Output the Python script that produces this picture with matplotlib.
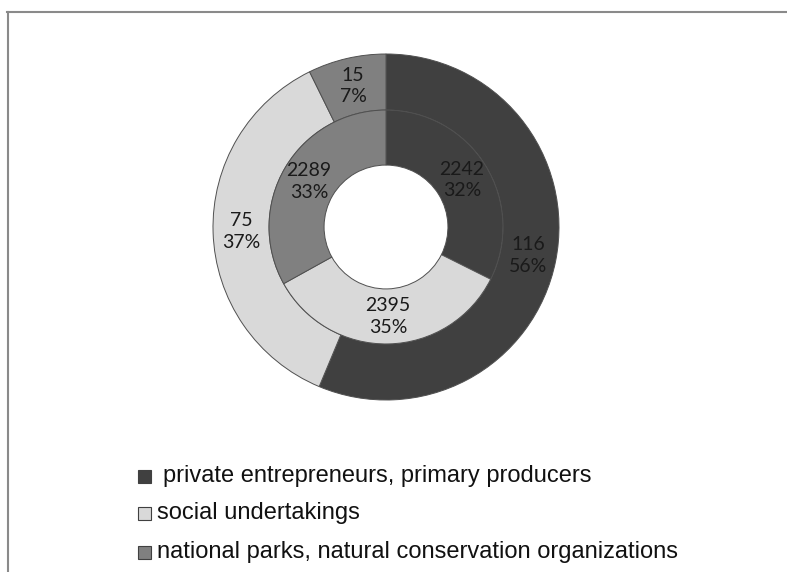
import matplotlib
matplotlib.use("Agg")
import matplotlib.pyplot as plt
from matplotlib.patches import Rectangle
from matplotlib.lines import Line2D
import numpy as np

categories = ["private entrepreneurs, primary producers",
              "social undertakings",
              "national parks, natural conservation organizations"]
outer_values = [116, 75, 15]
outer_pct = [56, 37, 7]
inner_values = [2242, 2395, 2289]
inner_pct = [32, 35, 33]
colors = ["#404040", "#d9d9d9", "#808080"]

W, H = 787, 572
fig = plt.figure(figsize=(W / 100, H / 100), dpi=100)
fig.patch.set_facecolor("white")

# frame lines (top and left)
fig.add_artist(Line2D([7 / W, 1.0], [1 - 11.5 / H, 1 - 11.5 / H], color="#8a8a8a", lw=1.5))
fig.add_artist(Line2D([7.5 / W, 7.5 / W], [0, 1 - 11.5 / H], color="#8a8a8a", lw=1.5))

cx, cy, R = 386, 227, 173
ax = fig.add_axes([(cx - R) / W, 1 - (cy + R) / H, 2 * R / W, 2 * R / H])
r_mid = 0.676
r_hole = 0.358

wp = dict(edgecolor="#505050", linewidth=0.7)
ax.pie(outer_values, radius=1.0, colors=colors, startangle=90, counterclock=False,
       wedgeprops=dict(width=1 - r_mid, **wp))
ax.pie(inner_values, radius=r_mid, colors=colors, startangle=90, counterclock=False,
       wedgeprops=dict(width=r_mid - r_hole, **wp))
ax.set_xlim(-1, 1)
ax.set_ylim(-1, 1)
ax.set_aspect("equal")
ax.axis("off")

lab_font = dict(family=["Lato", "DejaVu Sans"], fontsize=14, color="#1a1a1a",
                ha="center", va="center", linespacing=1.3)

def place(values, pcts, rad):
    total = float(sum(values))
    cum = 0.0
    for v, p in zip(values, pcts):
        mid = cum + v / 2.0
        ang = np.deg2rad(90 - 360 * mid / total)
        ax.text(rad * np.cos(ang), rad * np.sin(ang), f"{v}\n{p}%", **lab_font)
        cum += v

place(outer_values, outer_pct, (1 + r_mid) / 2)
place(inner_values, inner_pct, (r_mid + r_hole) / 2)

# legend
leg_y = [476, 513, 552]
leg_text_x = [163, 157, 157]
for cat, col, y, tx in zip(categories, colors, leg_y, leg_text_x):
    fig.add_artist(Rectangle((138 / W, 1 - (y + 6.5) / H), 13 / W, 13 / H,
                             facecolor=col, edgecolor="#404040", linewidth=0.8,
                             transform=fig.transFigure))
    fig.text(tx / W, 1 - y / H, cat, family=["Liberation Sans Narrow", "Liberation Sans"],
             fontsize=17, color="#111111", ha="left", va="center")

fig.savefig("out.png", dpi=100, facecolor="white")
